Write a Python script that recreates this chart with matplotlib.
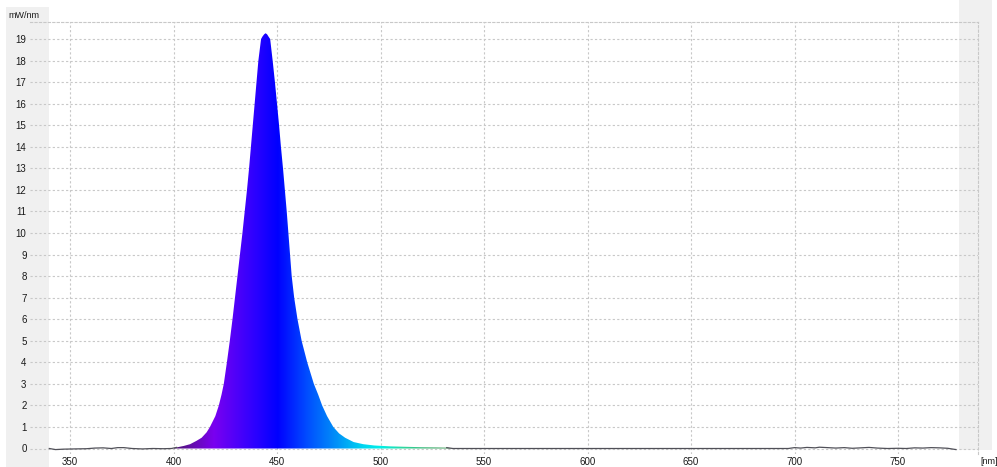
import numpy as np
import matplotlib
matplotlib.use("Agg")
import matplotlib.pyplot as plt
from matplotlib.colors import LinearSegmentedColormap, Normalize
from matplotlib.patches import Rectangle, PathPatch

# ---- data ----
wavelength = [340, 343, 347, 352, 358, 362, 366, 370, 373, 376, 380, 385, 390, 395, 399,
              401.5, 405, 408, 411, 413.6, 416, 417.6, 420.2, 421.9, 423.2, 424.3, 425.8,
              427.2, 428.5, 429.7, 430.9, 432.1, 433.3, 434.4, 435.5, 436.5, 437.4, 438.3,
              439.2, 440.1, 441.0, 442.3, 443.0, 443.8, 444.5, 445.2, 446.0,
              446.7, 447.9, 449.0, 450.0, 451.0, 451.9, 452.9, 453.8, 454.7, 455.5, 456.3,
              457.1, 458.3, 459.9, 461.9, 464.6, 467.8, 469.9, 471.8, 474.2, 477.2, 480,
              482.9, 487, 491.7, 497, 504.6, 512, 520, 527, 532,
              535, 540, 560, 580, 600, 620, 640, 660, 680, 697, 700, 703, 706, 710, 712,
              716, 720, 724, 728, 732, 736, 740, 745, 750, 754, 758, 762, 766, 770, 774, 778]
irradiance = [0.0, -0.05, -0.03, -0.02, -0.01, 0.02, 0.03, 0.0, 0.04, 0.04, 0.0, -0.02, 0.0, -0.01, 0.0,
              0.05, 0.12, 0.2, 0.35, 0.5, 0.75, 1.0, 1.5, 2.0, 2.5, 3.0, 4.0,
              5.0, 6.0, 7.0, 8.0, 9.0, 10.0, 11.0, 12.0, 13.0, 14.0, 15.0,
              16.0, 17.0, 18.0, 19.0, 19.12, 19.22, 19.27, 19.22, 19.1,
              19.0, 18.0, 17.0, 16.0, 15.0, 14.0, 13.0, 12.0, 11.0, 10.0, 9.0,
              8.0, 7.0, 6.0, 5.0, 4.0, 3.0, 2.5, 2.0, 1.5, 1.0, 0.7,
              0.5, 0.3, 0.2, 0.14, 0.1, 0.08, 0.06, 0.05, 0.04,
              0.0, 0.0, 0.0, 0.0, 0.0, 0.0, 0.0, 0.0, 0.0, 0.0, 0.04, 0.02, 0.05, 0.03, 0.06,
              0.04, 0.02, 0.04, 0.01, 0.03, 0.05, 0.02, 0.0, 0.01, 0.0, 0.03, 0.02, 0.04, 0.03, 0.01, -0.05]
x_ticks = [350, 400, 450, 500, 550, 600, 650, 700, 750]
y_ticks = list(range(0, 20))
y_unit = "mW/nm"
x_unit = "[nm]"

wl = np.array(wavelength, dtype=float)
val = np.array(irradiance, dtype=float)

plt.rcParams['font.family'] = ['Liberation Sans Narrow', 'Liberation Sans', 'DejaVu Sans']

W, H = 997, 467
fig = plt.figure(figsize=(W / 100, H / 100), dpi=100)
fig.patch.set_facecolor('white')

def fr(x0, y0, x1, y1):
    return (x0 / W, 1 - y1 / H), (x1 - x0) / W, (y1 - y0) / H

# grey side bands
for (x0, y0, x1, y1) in [(6, 7, 49, 467), (959, 0, 992, 450)]:
    xy, w, h = fr(x0, y0, x1, y1)
    fig.patches.append(Rectangle(xy, w, h, transform=fig.transFigure,
                                 facecolor='#f0f0f0', edgecolor='none', zorder=-5))

ax_l, ax_r, ax_t, ax_b = 30, 978, 22, 454
ax = fig.add_axes([ax_l / W, 1 - ax_b / H, (ax_r - ax_l) / W, (ax_b - ax_t) / H])
ax.set_facecolor('none')

# data limits: 350nm at px 70, 2.07 px/nm ; 0 at px 448.5, 21.55 px/unit
px_per_nm = 2.07
xmin = 350 - (70 - ax_l) / px_per_nm
xmax = 350 + (ax_r - 70) / px_per_nm
px_per_u = 21.55
ymin = -(ax_b - 448.5) / px_per_u
ymax = (448.5 - ax_t) / px_per_u

# gradient fill by wavelength
cmap = LinearSegmentedColormap.from_list('spec', [
    (0.00, '#4a1070'),
    (0.05, '#6010a0'),
    (0.14, '#7a00f0'),
    (0.28, '#3000ff'),
    (0.37, '#0000ff'),
    (0.48, '#0050ff'),
    (0.58, '#0090f8'),
    (0.68, '#00d8f0'),
    (0.74, '#00f0e8'),
    (0.82, '#30d8a0'),
    (0.92, '#40b070'),
    (1.00, '#409050'),
])
norm = Normalize(400, 535)
poly = ax.fill_between(wl, 0, val, facecolor='none', edgecolor='none')
path = poly.get_paths()[0]
patch = PathPatch(path, facecolor='none', edgecolor='none')
ax.add_patch(patch)
grad = np.linspace(400, 535, 800)[None, :]
im = ax.imshow(grad, extent=[400, 535, 0, ymax], aspect='auto', cmap=cmap, norm=norm,
               origin='lower', zorder=2, interpolation='bilinear')
im.set_clip_path(patch)

# baseline trace outside the filled band
left = wl <= 402
right = wl >= 532
ax.plot(wl[left], val[left], color='#505058', lw=0.9, zorder=3)
ax.plot(wl[right], val[right], color='#505058', lw=0.9, zorder=3)

ax.set_xlim(xmin, xmax)
ax.set_ylim(ymin, ymax)
ax.set_xticks(x_ticks)
ax.set_yticks(y_ticks)
ax.grid(True, color='#c8c8c8', linestyle=(0, (2, 2)), linewidth=0.8, zorder=1)
ax.set_axisbelow(True)
ax.tick_params(length=0, labelsize=7, colors='#1a1a1a', pad=2.5)
for s in ['left', 'bottom']:
    ax.spines[s].set_visible(False)
for s in ['top', 'right']:
    ax.spines[s].set_color('#c8c8c8')
    ax.spines[s].set_linestyle((0, (2, 2)))
    ax.spines[s].set_linewidth(0.8)

fig.text(8 / W, 1 - 16 / H, y_unit, fontsize=6.5, color='#1a1a1a', ha='left', va='center')
fig.text(980 / W, 1 - 461 / H, x_unit, fontsize=6.5, color='#1a1a1a', ha='left', va='center')

fig.savefig('out.png', dpi=100)
